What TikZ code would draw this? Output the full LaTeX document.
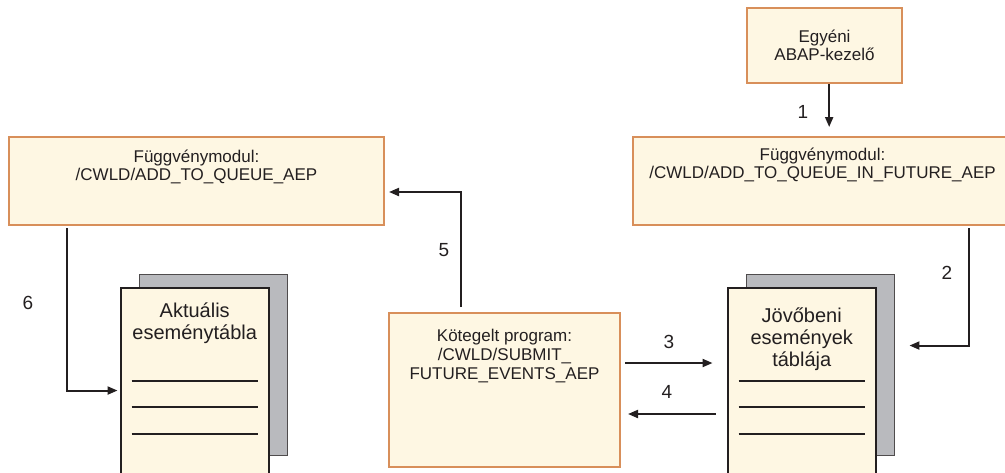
\documentclass[tikz,border=0pt]{standalone}
\usepackage{fontspec}
\setmainfont{Liberation Sans}
\usetikzlibrary{arrows.meta, positioning}

\definecolor{boxfill}{RGB}{254,247,227}
\definecolor{boxline}{RGB}{216,143,90}
\definecolor{sheetgray}{RGB}{185,186,190}
\definecolor{ink}{RGB}{35,31,32}

% text set at the top of a box of fixed size: width, height, first baseline, text
\newcommand{\toptext}[4]{\parbox[c][#2][t]{#1}{\centering\rule{0pt}{#3}\ignorespaces#4}}

\begin{document}
\begin{tikzpicture}[
    x=0.75pt, y=-0.75pt,
    font=\fontsize{12.75}{13.5}\selectfont,
    text=ink,
    module/.style={
        draw=boxline,
        line width=1.5pt,
        fill=boxfill,
        inner sep=0pt
    },
    sheet/.style={
        draw=ink,
        line width=1.8pt,
        fill=boxfill,
        inner sep=0pt,
        font=\fontsize{15}{16.5}\selectfont
    },
    backsheet/.style={
        draw=ink!80,
        line width=0.7pt,
        fill=sheetgray,
        minimum width=111pt,
        minimum height=135.75pt,
        inner sep=0pt
    },
    stepnum/.style={font=\fontsize{14.25}{15}\selectfont, inner sep=0pt},
    tablerule/.style={line width=1.5pt, draw=ink},
    flow/.style={-{Triangle[length=7.5pt, width=6pt]}, line width=1.5pt, draw=ink}
]
    \clip (0,0) rectangle (1005,472);

    \node[module, minimum width=116.25pt, minimum height=56.25pt, align=center] (handler) at (824.5,45.5) {Egyéni\\ABAP-kezelő};
    \node[module] (fmfuture) at (822.5,181) {\toptext{284.25pt}{66pt}{17.25pt}{Függvénymodul:\\/CWLD/ADD\_TO\_QUEUE\_IN\_FUTURE\_AEP}};
    \node[module] (fmqueue) at (196.5,181) {\toptext{281.25pt}{66pt}{18.75pt}{Függvénymodul:\\/CWLD/ADD\_TO\_QUEUE\_AEP}};
    \node[module, font=\fontsize{12.75}{14.25}\selectfont] (batch) at (504.5,390) {\toptext{173.25pt}{115.5pt}{21pt}{Kötegelt program:\\/CWLD/SUBMIT\_\\FUTURE\_EVENTS\_AEP}};

    % current events table
    \node[backsheet] (curback) at (213,364.5) {};
    \node[sheet, anchor=north west] (curfront) at ([xshift=-14.25pt, yshift=-9.75pt]curback.north west) {\toptext{111pt}{152.25pt}{22.5pt}{Aktuális\\eseménytábla}};
    \foreach \d in {70.5,90,110.25}
        \draw[tablerule] ([xshift=9pt, yshift=-\d pt]curfront.north west) -- ([xshift=-9pt, yshift=-\d pt]curfront.north east);

    % future events table
    \node[backsheet] (futback) at (820,364.5) {};
    \node[sheet, anchor=north west] (futfront) at ([xshift=-14.25pt, yshift=-9.75pt]futback.north west) {\toptext{111pt}{152.25pt}{26.25pt}{Jövőbeni\\események\\táblája}};
    \foreach \d in {70.5,90,110.25}
        \draw[tablerule] ([xshift=9pt, yshift=-\d pt]futfront.north west) -- ([xshift=-9pt, yshift=-\d pt]futfront.north east);

    \draw[flow, shorten >=6.75pt] ([xshift=3.5pt]handler.south) -- ([xshift=3.5pt]handler.south |- fmfuture.north);
    \draw[flow, shorten <=1.5pt, shorten >=11.25pt] ([xshift=-33pt]fmfuture.south east) |- ([yshift=-54pt]futback.north east);
    \draw[flow, shorten <=3pt, shorten >=10.5pt] ([yshift=-38.25pt]batch.north east) -- ([yshift=-38.25pt]batch.north east -| futfront.west);
    \draw[flow, shorten <=8.25pt, shorten >=5.25pt] ([yshift=-76.5pt]batch.north east -| futfront.west) -- ([yshift=-76.5pt]batch.north east);
    \draw[flow, shorten <=3.75pt, shorten >=3pt] ([xshift=54.75pt]batch.north west) |- ([yshift=-8.25pt]fmqueue.east);
    \draw[flow, shorten <=1.5pt, shorten >=1.5pt] ([xshift=44.25pt]fmqueue.south west) |- ([yshift=-78pt]curfront.north west);

    \node[stepnum] (n1) at (803,112) {1};
    \node[stepnum] (n2) at (947,273) {2};
    \node[stepnum] (n3) at (669,342) {3};
    \node[stepnum] (n4) at (667,392) {4};
    \node[stepnum] (n5) at (444,250) {5};
    \node[stepnum] (n6) at (28,303) {6};
\end{tikzpicture}
\end{document}
